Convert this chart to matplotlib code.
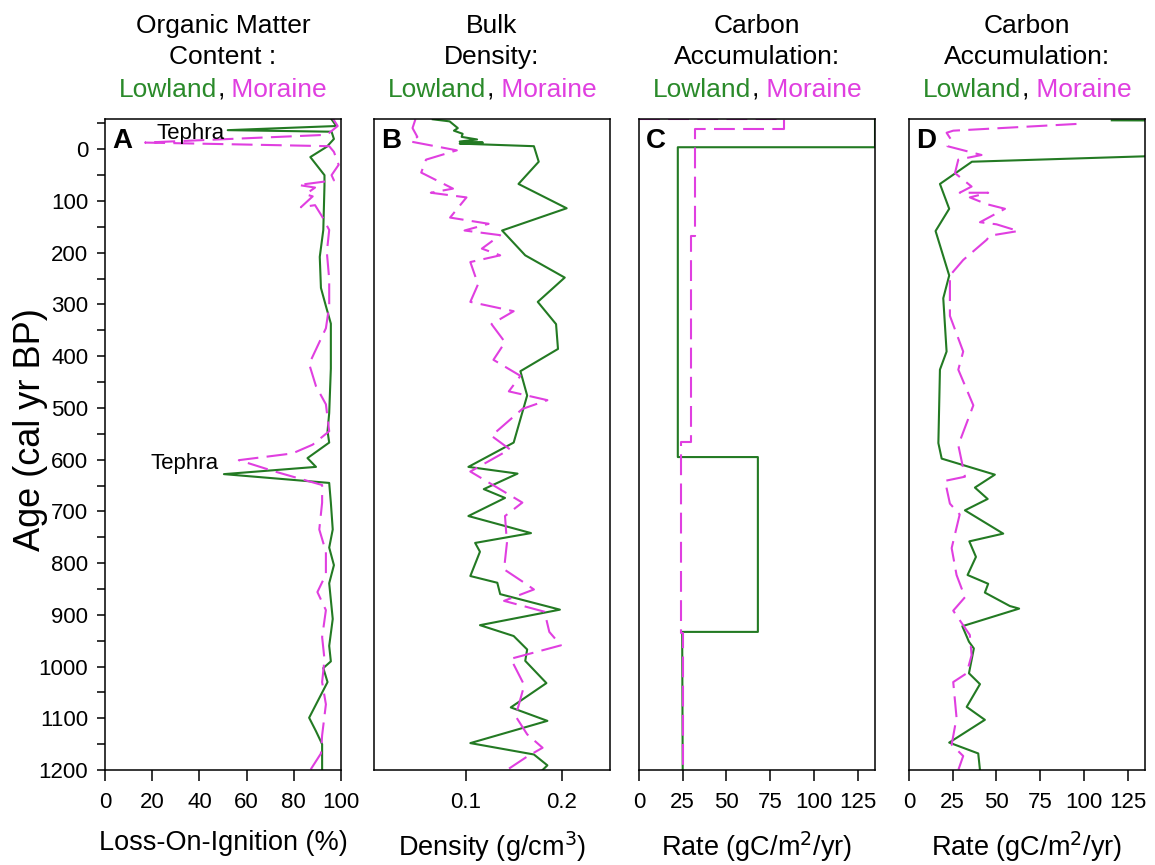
import matplotlib
matplotlib.use("Agg")
import matplotlib.pyplot as plt
from matplotlib.ticker import MultipleLocator

plt.rcParams['font.family'] = ['Liberation Sans', 'DejaVu Sans']

GREEN = '#237a23'
MAGENTA = '#e03fe0'
TXT_GREEN = '#2a8a2a'

# ---- A: loss-on-ignition (%) ----
loi_low_age = [-58, -45, -37, -34, -20, -5, 15, 50, 70, 156, 208, 268, 303, 337, 424, 510, 545, 567,
               597, 614, 628, 645, 683, 735, 770, 804, 839, 908, 960, 990, 1003, 1030, 1099, 1125, 1150, 1200]
loi_low = [96, 98, 52, 96, 97, 94, 87, 93, 93, 92.5, 91, 91.5, 93.6, 95.7, 95.7, 95, 94.3, 95,
           85.8, 89.4, 50.4, 95, 95.7, 96.5, 95, 97, 95, 96.5, 95, 95.7, 92.5, 94.3, 86.5, 89.4, 92, 92]
loi_mor_age = [-60, -45, -28, -13, -6, 5, 30, 50, 60, 69, 74, 87, 91, 112, 108, 130, 156, 199, 251, 303,
               346, 415, 458, 493, 545, 571, 588, 601, 623, 640, 649, 683, 735, 778, 822, 856, 891, 943,
               986, 1030, 1073, 1133, 1168, 1200]
loi_mor = [96.5, 98.6, 94, 17, 95, 97, 99, 96, 97, 82, 89, 85, 88, 83, 89, 92, 95, 94, 95, 95,
           93.6, 86.5, 89.4, 93.6, 95, 88, 79.4, 56.7, 72, 85, 92, 92, 90.8, 93.6, 93.6, 90, 93.6, 92,
           93, 92, 93.6, 92, 91.5, 87]

# ---- B: bulk density (g/cm3) ----
bd_low_age = [-58, -54, -41, -36, -30, -24, -19, -15, -13, -11, -6, 24, 67, 114, 157, 205, 248, 295, 338,
              386, 429, 476, 567, 614, 627, 657, 674, 709, 742, 761, 778, 825, 838, 860, 890, 920,
              941, 967, 989, 1032, 1079, 1105, 1148, 1170, 1191, 1200]
bd_low = [0.066, 0.0835, 0.092, 0.088, 0.097, 0.096, 0.112, 0.094, 0.118, 0.094, 0.171, 0.176, 0.155, 0.205,
          0.138, 0.162, 0.203, 0.175, 0.194, 0.196, 0.157, 0.164, 0.150, 0.103, 0.154, 0.119, 0.141,
          0.103, 0.168, 0.110, 0.115, 0.105, 0.133, 0.136, 0.198, 0.115, 0.150, 0.164, 0.162,
          0.184, 0.147, 0.185, 0.105, 0.171, 0.185, 0.180]
bd_mor_age = [-58, -41, -24, -15, 2, 20, 45, 76, 84, 93, 132, 144, 157, 166, 192, 205, 218, 261, 295, 313,
              338, 373, 407, 438, 468, 485, 502, 554, 580, 623, 683, 709, 761, 812, 838, 851, 873,
              894, 933, 959, 985, 1036, 1096, 1131, 1157, 1174, 1200]
bd_mor = [0.048, 0.045, 0.050, 0.043, 0.091, 0.059, 0.054, 0.087, 0.064, 0.101, 0.084, 0.124, 0.099, 0.136,
          0.117, 0.136, 0.105, 0.113, 0.105, 0.150, 0.127, 0.141, 0.129, 0.157, 0.145, 0.185, 0.159,
          0.127, 0.146, 0.105, 0.159, 0.141, 0.143, 0.140, 0.161, 0.171, 0.140, 0.182, 0.187, 0.199,
          0.147, 0.161, 0.152, 0.164, 0.180, 0.164, 0.143]

# ---- C: carbon accumulation, interval means (gC/m2/yr) ----
ca_low_age = [-58, -4, -4, 595, 595, 933, 933, 1200]
ca_low = [135, 135, 22.2, 22.2, 68, 68, 24.7, 25]
ca_mor_age = [-58, -58, -40, -40, 167, 167, 565, 565, 935, 935, 1200]
ca_mor = [0, 83, 83, 32, 32, 29.5, 29.5, 24, 24, 25, 25]

# ---- D: carbon accumulation, per sample (gC/m2/yr) ----
cd_low_age = [-56, -54, 13, 24, 67, 115, 158, 244, 288, 391, 426, 568, 598, 629, 654, 676, 698, 743, 758,
              788, 823, 840, 857, 883, 888, 922, 952, 965, 1013, 1034, 1078, 1103, 1147, 1168, 1200]
cd_low = [116, 300, 140, 36, 17.7, 23, 15.2, 23, 19.6, 21.5, 17.7, 16.8, 18.7, 49.1, 37.7, 45, 32,
          53.9, 34.5, 38.3, 33.5, 45.3, 43.4, 57.7, 63, 30.5, 34.3, 37.1, 34.3, 40.6, 33, 43.4, 23,
          39.6, 40.6]
cd_mor_age = [-49, -36, -32, -19, -6, 11, 20, 46, 72, 84, 84, 93, 106, 115, 141, 145, 158, 167, 175,
              214, 244, 322, 391, 426, 495, 572, 633, 641, 685, 706, 771, 823, 866, 892, 939, 978,
              1013, 1030, 1099, 1151, 1173, 1200]
cd_mor = [95.8, 25.3, 21.5, 24, 22, 41.5, 28.2, 26.3, 35.8, 29, 45.3, 34.8, 44.4, 54.9, 40.6, 50,
          62.5, 46.3, 44.4, 31, 23.4, 23.4, 31, 28.2, 36.8, 28.2, 32, 20.6, 23.4, 29, 24.4, 27.2,
          32, 25.3, 34.8, 35.8, 33, 25.3, 27.2, 24.4, 31, 28.2]

titles = [("Organic Matter", "Content :"), ("Bulk", "Density:"),
          ("Carbon", "Accumulation:"), ("Carbon", "Accumulation:")]
xlabels = ["Loss-On-Ignition (%)", "Density (g/cm$^3$)",
           "Rate (gC/m$^2$/yr)", "Rate (gC/m$^2$/yr)"]
panel_letters = ["A", "B", "C", "D"]

W, H = 1155, 865
fig = plt.figure(figsize=(W / 100, H / 100), dpi=100)

lefts = [105, 374, 639, 909]
aw = 236
top_px, bot_px = 119.3, 770
axes = []
for l in lefts:
    ax = fig.add_axes([l / W, (H - bot_px) / H, aw / W, (bot_px - top_px) / H])
    ax.set_ylim(1200, -58)
    for s in ax.spines.values():
        s.set_linewidth(1.1)
    ax.tick_params(axis='x', direction='out', length=8, width=1.1, labelsize=16, pad=8)
    axes.append(ax)

lw = 1.5
dash = (10, 4)
axA, axB, axC, axD = axes

axA.plot(loi_low, loi_low_age, color=GREEN, lw=lw)
axA.plot(loi_mor, loi_mor_age, color=MAGENTA, lw=lw, dashes=dash)
axA.set_xlim(0, 100)
axA.xaxis.set_major_locator(MultipleLocator(20))

axB.plot(bd_low, bd_low_age, color=GREEN, lw=lw)
axB.plot(bd_mor, bd_mor_age, color=MAGENTA, lw=lw, dashes=dash)
axB.set_xlim(0.005, 0.25)
axB.set_xticks([0.1, 0.2])

axC.plot(ca_low, ca_low_age, color=GREEN, lw=lw)
axC.plot(ca_mor, ca_mor_age, color=MAGENTA, lw=lw, dashes=dash)

axD.plot(cd_low, cd_low_age, color=GREEN, lw=lw)
axD.plot(cd_mor, cd_mor_age, color=MAGENTA, lw=lw, dashes=dash)

for ax in (axC, axD):
    ax.set_xlim(0, 135)
    ax.xaxis.set_major_locator(MultipleLocator(25))

# y axis only on panel A
axA.yaxis.set_major_locator(MultipleLocator(100))
axA.yaxis.set_minor_locator(MultipleLocator(50))
axA.tick_params(axis='y', which='both', direction='out', length=6, width=1.1, labelsize=16, pad=6)
for ax in (axB, axC, axD):
    ax.tick_params(axis='y', which='both', left=False, labelleft=False)

axA.text(50.5, -31, "Tephra", ha='right', va='center', fontsize=16)
axA.text(48, 607, "Tephra", ha='right', va='center', fontsize=16)

fig.text(30 / W, 1 - 430 / H, "Age (cal yr BP)", rotation=90, ha='center', va='center', fontsize=26)

tsize = 19
colored = []
for ax, (l1, l2), xl, letter in zip(axes, titles, xlabels, panel_letters):
    xc = ax.get_position().x0 + ax.get_position().width / 2
    fig.text(xc, 1 - 33 / H, l1, ha='center', va='baseline', fontsize=tsize)
    fig.text(xc, 1 - 64 / H, l2, ha='center', va='baseline', fontsize=tsize)
    t1 = fig.text(xc, 1 - 97 / H, "Lowland", ha='left', va='baseline', fontsize=tsize, color=TXT_GREEN)
    t2 = ax.annotate(",", xy=(1, 0), xycoords=t1, va='bottom', fontsize=tsize, color='black',
                     annotation_clip=False)
    t3 = ax.annotate(" Moraine", xy=(1, 0), xycoords=t2, va='bottom', fontsize=tsize, color=MAGENTA,
                     annotation_clip=False)
    colored.append((xc, t1, t3))
    ax.set_xlabel(xl, fontsize=19.5, labelpad=12)
    ax.text(0.03, 0.987, letter, transform=ax.transAxes, ha='left', va='top',
            fontsize=20, fontweight='bold')

fig.canvas.draw()
r = fig.canvas.get_renderer()
for xc, t1, t3 in colored:
    b1 = t1.get_window_extent(r)
    b3 = t3.get_window_extent(r)
    width = (b3.x1 - b1.x0) / W
    t1.set_x(xc - width / 2)

fig.savefig("out.png", dpi=100)
